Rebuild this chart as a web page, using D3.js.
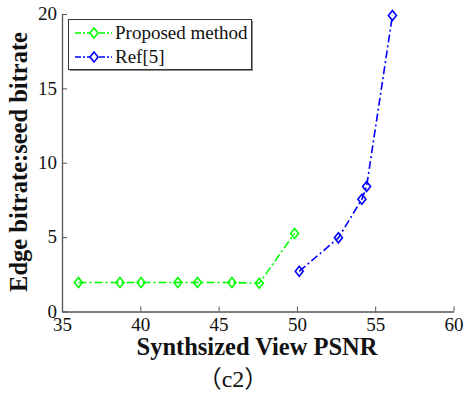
<!DOCTYPE html>
<html>
<head>
<meta charset="utf-8">
<script src="https://cdn.jsdelivr.net/npm/d3@7/dist/d3.min.js"></script>
<style>
  html, body { margin: 0; padding: 0; background: #fff; }
  svg { display: block; }
  svg text { font-family: "Liberation Serif", "Times New Roman", serif !important; fill: #111; }
  svg text.cjk { font-family: "Liberation Serif", "Noto Sans CJK SC", serif !important; }
</style>
</head>
<body>
<svg id="chart" width="468" height="398"></svg>
<script>
// Edge bitrate : seed bitrate against synthesized view PSNR
const seriesNames = ["Proposed method", "Ref[5]"];
const seriesColors = ["#00ff00", "#0000ff"];
const proposedPsnr = [36.05, 38.7, 40.05, 42.4, 43.65, 45.85, 47.6, 49.85];
const proposedRatio = [1.95, 1.95, 1.95, 1.95, 1.95, 1.95, 1.9, 5.25];
const refPsnr = [50.15, 52.65, 54.15, 54.45, 56.1];
const refRatio = [2.7, 4.95, 7.55, 8.4, 19.9];
const xTicks = [35, 40, 45, 50, 55, 60];
const yTicks = [0, 5, 10, 15, 20];
const xTitle = "Synthsized View PSNR";
const yTitle = "Edge bitrate:seed bitrate";
const caption = "（c2）";

const svg = d3.select("#chart");
const serifStack = "Liberation Serif, Times New Roman, serif";
const useSerif = sel => sel.attr("font-family", serifStack)
  .style("font-family", serifStack, "important");

const x = d3.scaleLinear().domain([35, 60]).range([62, 453.5]);
const y = d3.scaleLinear().domain([0, 20]).range([311.5, 14]);

const axisColor = "#555";

// bottom axis, ticks pointing inward
const gx = svg.append("g").attr("transform", `translate(0,${y(0)})`)
  .call(d3.axisBottom(x).tickValues(xTicks).tickSize(-5).tickSizeOuter(0).tickPadding(4));
gx.attr("font-family", serifStack).attr("font-size", 19);
gx.select(".domain").attr("stroke", axisColor).attr("stroke-width", 1.3);
gx.selectAll(".tick line").attr("stroke", axisColor);
gx.selectAll(".tick text").call(useSerif).style("font-size", "19px")
  .attr("y", 19).attr("dy", null);

// left axis, ticks pointing inward
const gy = svg.append("g").attr("transform", `translate(${x(35)},0)`)
  .call(d3.axisLeft(y).tickValues(yTicks).tickSize(-5).tickSizeOuter(0).tickPadding(5));
gy.attr("font-family", serifStack).attr("font-size", 19);
gy.select(".domain").attr("stroke", axisColor).attr("stroke-width", 1.3);
gy.selectAll(".tick line").attr("stroke", axisColor);
gy.selectAll(".tick text").call(useSerif).style("font-size", "19px").attr("dy", "0.3em");

// axis titles
svg.append("text")
  .attr("x", 257).attr("y", 355)
  .attr("text-anchor", "middle")
  .call(useSerif)
  .style("font-weight", "bold").style("font-size", "24.5px")
  .text(xTitle);

svg.append("text")
  .attr("transform", `translate(27,162) rotate(-90)`)
  .attr("text-anchor", "middle")
  .call(useSerif)
  .style("font-weight", "bold").style("font-size", "24.5px")
  .text(yTitle);

svg.append("text")
  .attr("class", "cjk")
  .attr("x", 233).attr("y", 387)
  .attr("text-anchor", "middle")
  .attr("font-family", "Liberation Serif, Noto Sans CJK SC, serif")
  .style("font-size", "24px")
  .text(caption);

// data series
const series = [
  { name: seriesNames[0], color: seriesColors[0], xs: proposedPsnr, ys: proposedRatio },
  { name: seriesNames[1], color: seriesColors[1], xs: refPsnr, ys: refRatio }
];

const dash = "8,3,2,3";
const line = d3.line().x(d => x(d[0])).y(d => y(d[1]));
const diamond = (cx, cy, w, h) =>
  `M${cx},${cy - h}L${cx + w},${cy}L${cx},${cy + h}L${cx - w},${cy}Z`;

series.forEach(s => {
  const pts = s.xs.map((v, i) => [v, s.ys[i]]);
  svg.append("path")
    .datum(pts)
    .attr("d", line)
    .attr("fill", "none")
    .attr("stroke", s.color)
    .attr("stroke-width", 1.6)
    .attr("stroke-dasharray", dash);
  svg.append("g").selectAll("path")
    .data(pts)
    .join("path")
    .attr("d", d => diamond(x(d[0]), y(d[1]), 4, 5))
    .attr("fill", "none")
    .attr("stroke", s.color)
    .attr("stroke-width", 1.6);
});

// legend
const lg = svg.append("g");
lg.append("rect").attr("x", 70).attr("y", 21).attr("width", 183).attr("height", 50)
  .attr("fill", "#888");
lg.append("rect").attr("x", 68.5).attr("y", 19.5).attr("width", 183).attr("height", 50)
  .attr("fill", "#fff").attr("stroke", "#333").attr("stroke-width", 1);
series.forEach((s, i) => {
  const cy = 33 + i * 24;
  lg.append("line").attr("x1", 75).attr("x2", 112).attr("y1", cy).attr("y2", cy)
    .attr("stroke", s.color).attr("stroke-width", 1.6).attr("stroke-dasharray", "6,2,2,2");
  lg.append("path").attr("d", diamond(94, cy, 4, 5))
    .attr("fill", "#fff").attr("stroke", s.color).attr("stroke-width", 1.6);
  lg.append("text").attr("x", 115).attr("y", cy + 5.5)
    .call(useSerif)
    .style("font-size", "19px")
    .text(s.name);
});
</script>
</body>
</html>
